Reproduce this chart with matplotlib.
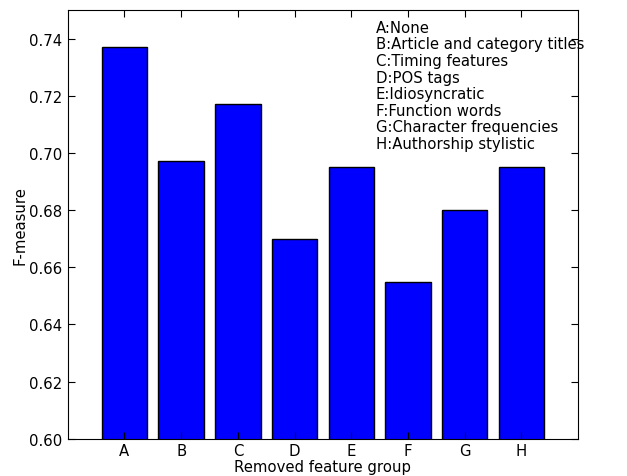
import numpy as np
import matplotlib
matplotlib.use("Agg")
import matplotlib.pyplot as plt

groups = ["A", "B", "C", "D", "E", "F", "G", "H"]
fmeasure = [0.737, 0.697, 0.717, 0.670, 0.695, 0.655, 0.680, 0.695]
descriptions = [
    "A:None",
    "B:Article and category titles",
    "C:Timing features",
    "D:POS tags",
    "E:Idiosyncratic",
    "F:Function words",
    "G:Character frequencies",
    "H:Authorship stylistic",
]

plt.rcParams["font.family"] = "DejaVu Sans"
plt.rcParams["font.size"] = 10.7

fig = plt.figure(figsize=(6.27, 4.77), dpi=100)
ax = fig.add_axes([0.108, 0.078, 0.814, 0.899])

x = np.arange(len(groups))
ax.bar(x, fmeasure, width=0.8, color="#0000ff", edgecolor="black", linewidth=1.0)
ax.set_xlim(-1, len(groups))
ax.set_ylim(0.60, 0.75)
ticks = np.arange(0.60, 0.741, 0.02)
ax.set_yticks(ticks)
ax.set_yticklabels([f"{v:.2f}" for v in ticks])
ax.set_xticks(x)
ax.set_xticklabels(groups)
ax.tick_params(direction="in", length=5, top=True, right=True)
ax.tick_params(axis="x", pad=3)
ax.tick_params(axis="y", pad=4)
ax.set_xlabel("Removed feature group", labelpad=1)
ax.set_ylabel("F-measure", labelpad=1)

ax.text(0.604, 0.977, "\n".join(descriptions), transform=ax.transAxes,
        va="top", ha="left", linespacing=1.13)

fig.savefig("out.png", dpi=100)
